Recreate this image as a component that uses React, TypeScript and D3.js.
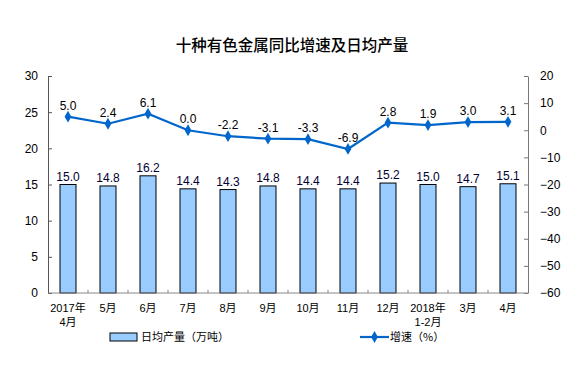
import * as d3 from "d3";
import { useRef, useEffect } from "react";

const months = ["2017年\n4月", "5月", "6月", "7月", "8月", "9月", "10月", "11月", "12月", "2018年\n1-2月", "3月", "4月"];
const dailyOutput = [15.0, 14.8, 16.2, 14.4, 14.3, 14.8, 14.4, 14.4, 15.2, 15.0, 14.7, 15.1];
const growth = [5.0, 2.4, 6.1, 0.0, -2.2, -3.1, -3.3, -6.9, 2.8, 1.9, 3.0, 3.1];
const leftTicks = [0, 5, 10, 15, 20, 25, 30];
const rightTicks = [-60, -50, -40, -30, -20, -10, 0, 10, 20];

const FONT = "'Liberation Sans', Arial, 'Noto Sans CJK SC', sans-serif";

export default function App() {
  const svgRef = useRef<SVGSVGElement>(null);

  useEffect(() => {
    const width = 567;
    const height = 370;
    const marginLeft = 48;
    const marginRight = 39;
    const marginTop = 76;
    const marginBottom = 77;

    const svg = d3.select(svgRef.current);
    svg.selectAll("*").remove();

    const x = d3
      .scaleBand()
      .domain(months)
      .range([marginLeft, width - marginRight]);

    const yL = d3.scaleLinear().domain([0, 30]).range([height - marginBottom, marginTop]);
    const yR = d3.scaleLinear().domain([-60, 20]).range([height - marginBottom, marginTop]);

    // title
    svg
      .append("text")
      .attr("x", 292)
      .attr("y", 51)
      .attr("text-anchor", "middle")
      .attr("font-family", "'Noto Sans CJK SC', sans-serif")
      .attr("font-size", 15.5)
      .attr("font-weight", 500)
      .attr("fill", "#000")
      .text("十种有色金属同比增速及日均产量");

    // bars
    const barW = 16;
    svg
      .append("g")
      .selectAll("rect")
      .data(dailyOutput)
      .join("rect")
      .attr("x", (d, i) => x(months[i])! + x.bandwidth() / 2 - barW / 2)
      .attr("y", (d) => yL(d))
      .attr("width", barW)
      .attr("height", (d) => yL(0) - yL(d))
      .attr("fill", "#99CCFF")
      .attr("stroke", "#000")
      .attr("stroke-width", 1);

    svg
      .append("g")
      .selectAll("text")
      .data(dailyOutput)
      .join("text")
      .attr("x", (d, i) => x(months[i])! + x.bandwidth() / 2)
      .attr("y", (d) => yL(d) - 4)
      .attr("text-anchor", "middle")
      .attr("font-family", FONT)
      .attr("font-size", 12)
      .attr("fill", "#000033")
      .text((d) => d.toFixed(1));

    // left axis
    const gl = svg
      .append("g")
      .attr("transform", `translate(${marginLeft},0)`)
      .call(d3.axisLeft(yL).tickValues(leftTicks).tickSize(-4).tickPadding(10).tickSizeOuter(0));
    gl.selectAll("text").attr("font-family", FONT).attr("font-size", 12).attr("fill", "#000");
    gl.selectAll("line,path").attr("stroke", "#555");

    // right axis
    const gr = svg
      .append("g")
      .attr("transform", `translate(${width - marginRight},0)`)
      .call(d3.axisRight(yR).tickValues(rightTicks).tickSize(-4).tickPadding(12).tickSizeOuter(0));
    gr.selectAll("text").attr("font-family", FONT).attr("font-size", 12).attr("fill", "#000");
    gr.selectAll("line,path").attr("stroke", "#777");

    // bottom axis
    const gb = svg.append("g").attr("transform", `translate(0,${height - marginBottom})`);
    gb.append("line")
      .attr("x1", marginLeft)
      .attr("x2", width - marginRight)
      .attr("stroke", "#888");
    gb.selectAll("line.tick")
      .data(months.slice(1))
      .join("line")
      .attr("class", "tick")
      .attr("x1", (d) => x(d)!)
      .attr("x2", (d) => x(d)!)
      .attr("y1", 0)
      .attr("y2", -3)
      .attr("stroke", "#888");
    const lbl = gb
      .selectAll("text")
      .data(months)
      .join("text")
      .attr("text-anchor", "middle")
      .attr("font-family", FONT)
      .attr("font-size", 11)
      .attr("fill", "#000");
    lbl.each(function (d) {
      const t = d3.select(this);
      d.split("\n").forEach((part, k) => {
        t.append("tspan")
          .attr("x", x(d)! + x.bandwidth() / 2)
          .attr("y", 19 + k * 14)
          .text(part);
      });
    });

    // growth line
    const line = d3
      .line<number>()
      .x((d, i) => x(months[i])! + x.bandwidth() / 2)
      .y((d) => yR(d));
    svg
      .append("path")
      .datum(growth)
      .attr("d", line)
      .attr("fill", "none")
      .attr("stroke", "#0066CC")
      .attr("stroke-width", 2.2);

    const diamond = d3.symbol(d3.symbolDiamond, 40);
    svg
      .append("g")
      .selectAll("path")
      .data(growth)
      .join("path")
      .attr("d", diamond)
      .attr("transform", (d, i) => `translate(${x(months[i])! + x.bandwidth() / 2},${yR(d)})`)
      .attr("fill", "#0066CC");

    svg
      .append("g")
      .selectAll("text")
      .data(growth)
      .join("text")
      .attr("x", (d, i) => x(months[i])! + x.bandwidth() / 2)
      .attr("y", (d) => yR(d) - 7)
      .attr("text-anchor", "middle")
      .attr("font-family", FONT)
      .attr("font-size", 12)
      .attr("fill", "#000")
      .text((d) => d.toFixed(1));

    // legend
    const lg = svg.append("g");
    lg.append("rect")
      .attr("x", 110)
      .attr("y", 333)
      .attr("width", 27)
      .attr("height", 8)
      .attr("fill", "#99CCFF")
      .attr("stroke", "#000");
    lg.append("text")
      .attr("x", 141)
      .attr("y", 341)
      .attr("font-family", "'Noto Sans CJK SC', sans-serif")
      .attr("font-size", 11)
      .attr("fill", "#000")
      .text("日均产量（万吨）");
    lg.append("line")
      .attr("x1", 360)
      .attr("x2", 389)
      .attr("y1", 337)
      .attr("y2", 337)
      .attr("stroke", "#0066CC")
      .attr("stroke-width", 2.2);
    lg.append("path")
      .attr("d", diamond)
      .attr("transform", "translate(374.5,337)")
      .attr("fill", "#0066CC");
    lg.append("text")
      .attr("x", 390)
      .attr("y", 341)
      .attr("font-family", "'Noto Sans CJK SC', sans-serif")
      .attr("font-size", 11)
      .attr("fill", "#000")
      .text("增速（%）");
  }, []);

  return (
    <svg
      ref={svgRef}
      width={567}
      height={370}
      style={{ position: "absolute", left: 0, top: 0, background: "#fff" }}
    ></svg>
  );
}
